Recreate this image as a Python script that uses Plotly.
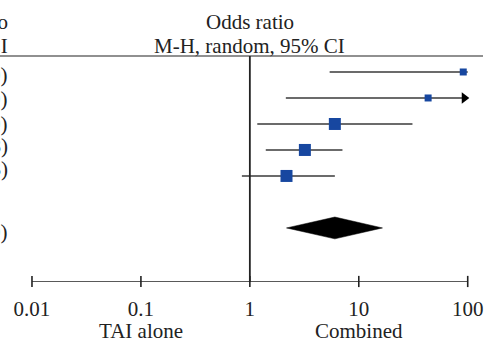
import math
import plotly.graph_objects as go

# ---- data ----
study_or = [91.0, 43.3, 6.03, 3.20, 2.17]
study_lo = [5.40, 2.14, 1.17, 1.40, 0.845]
study_hi = [100.0, 870.0, 31.1, 7.08, 6.03]
study_size = [7, 7, 12, 12, 12]
study_rows = [1, 2, 3, 4, 5]

pooled_or = 6.03
pooled_lo = 2.17
pooled_hi = 16.5
pooled_row = 7

tick_vals = [0.01, 0.1, 1, 10, 100]
tick_text = ["0.01", "0.1", "1", "10", "100"]
favours_left = "TAI alone"
favours_right = "Combined"
header_1 = "Odds ratio"
header_2 = "M-H, random, 95% CI"

# ---- layout constants ----
W, H = 498, 345
X_MIN, X_MAX = 0.01, 100
LOG_LEFT, LOG_RIGHT = -2.2936, 2.278
Y_TOP, Y_BOT = 0.385, 9.08
AXIS_ROW = 9.08
FONT = "Liberation Serif"
FS = 21
INK = "#222222"
BLUE = "#1747a0"
LINE = "#3a3a3a"
TEXT_SHIFT = [-3, -1, 0, 4, 7]   # pixel nudges of the clipped left text column
POOLED_SHIFT = -4

fig = go.Figure()

# CI lines
for r, lo, hi in zip(study_rows, study_lo, study_hi):
    fig.add_trace(go.Scatter(
        x=[max(lo, X_MIN), min(hi, X_MAX)], y=[r, r], mode="lines",
        line=dict(color=LINE, width=1.6), hoverinfo="skip", showlegend=False))
    if hi > X_MAX:
        fig.add_trace(go.Scatter(
            x=[X_MAX * 0.93], y=[r], mode="markers",
            marker=dict(symbol="triangle-right", size=10, color="black", opacity=1),
            hoverinfo="skip", showlegend=False))

# point estimates
fig.add_trace(go.Scatter(
    x=study_or, y=study_rows, mode="markers",
    marker=dict(symbol="square", size=study_size, color=BLUE, opacity=1,
                line=dict(width=0)),
    showlegend=False))

# pooled diamond
dh = 0.42
fig.add_trace(go.Scatter(
    x=[pooled_lo, pooled_or, pooled_hi, pooled_or, pooled_lo],
    y=[pooled_row, pooled_row - dh, pooled_row, pooled_row + dh, pooled_row],
    mode="lines", fill="toself", fillcolor="black",
    line=dict(color="black", width=0.5), showlegend=False))

# axis line and crossing ticks
fig.add_trace(go.Scatter(
    x=[tick_vals[0], tick_vals[-1]], y=[AXIS_ROW, AXIS_ROW], mode="lines",
    line=dict(color=INK, width=1.6), showlegend=False, hoverinfo="skip", cliponaxis=False))
fig.add_trace(go.Scatter(
    x=tick_vals, y=[AXIS_ROW - 0.02] * len(tick_vals), mode="markers",
    marker=dict(symbol="line-ns", size=8, line=dict(color=INK, width=1.6)),
    showlegend=False, hoverinfo="skip", cliponaxis=False))

# line of no effect
fig.add_shape(type="line", xref="x", yref="paper", x0=1, x1=1, y0=0, y1=1,
              line=dict(color=INK, width=1.8))
# header rule
fig.add_shape(type="line", xref="paper", yref="paper", x0=0, x1=483 / W, y0=1, y1=1,
              line=dict(color=INK, width=1.2))

lg = math.log10  # annotation x on a log axis is given as log10(value)
ann = []
# header texts above the graph column
ann.append(dict(text=header_1, x=lg(1), xref="x", y=1, yref="paper", yshift=34,
                xanchor="center", yanchor="middle", showarrow=False))
ann.append(dict(text=header_2, x=lg(1), xref="x", y=1, yref="paper", yshift=10,
                xanchor="center", yanchor="middle", showarrow=False))
# clipped left text column
ann.append(dict(text=header_1, x=10 / W, xref="paper", y=1, yref="paper", yshift=34,
                xanchor="right", yanchor="middle", showarrow=False))
ann.append(dict(text=header_2, x=10 / W, xref="paper", y=1, yref="paper", yshift=10,
                xanchor="right", yanchor="middle", showarrow=False))
for r, o, lo, hi, s in zip(study_rows, study_or, study_lo, study_hi, TEXT_SHIFT):
    ann.append(dict(text=f"{o:.2f} ({lo:.2f}, {hi:.2f})", x=10 / W, xref="paper",
                    y=r, yref="y", yshift=s, xanchor="right", yanchor="middle",
                    showarrow=False))
ann.append(dict(text=f"{pooled_or:.2f} ({pooled_lo:.2f}, {pooled_hi:.2f})", x=10 / W,
                xref="paper", y=pooled_row, yref="y", yshift=POOLED_SHIFT, xanchor="right",
                yanchor="middle", showarrow=False))
# favours labels
ann.append(dict(text=favours_left, x=lg(0.1), xref="x", y=0, yref="paper", yshift=-49,
                xanchor="center", yanchor="middle", showarrow=False))
ann.append(dict(text=favours_right, x=lg(10), xref="x", y=0, yref="paper", yshift=-49,
                xanchor="center", yanchor="middle", showarrow=False))

fig.update_layout(
    width=W, height=H,
    margin=dict(l=0, r=0, t=56, b=H - 282, pad=0),
    paper_bgcolor="white", plot_bgcolor="white",
    font=dict(family=FONT, size=FS, color=INK),
    annotations=ann,
    xaxis=dict(type="log", range=[LOG_LEFT, LOG_RIGHT], showgrid=False, zeroline=False,
               showline=False, ticks="", tickvals=tick_vals, ticktext=tick_text,
               ticklabelstandoff=12, fixedrange=True),
    yaxis=dict(range=[Y_BOT, Y_TOP], visible=False, fixedrange=True),
)

fig.write_html("out.html", config={"displayModeBar": False},
               post_script="document.body.style.margin='0';")
